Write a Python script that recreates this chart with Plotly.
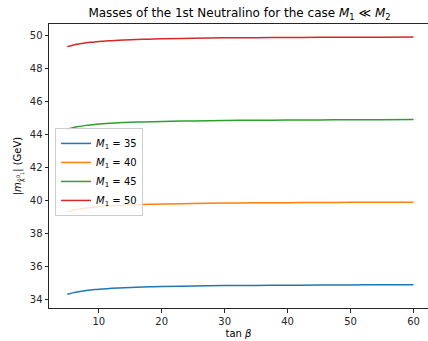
import plotly.graph_objects as go

tan_beta = [5, 6, 7, 8, 9, 10, 12, 14, 16, 18, 20, 25, 30, 35, 40, 45, 50, 55, 60]

m_35 = [34.30, 34.40, 34.47, 34.53, 34.57, 34.61, 34.66, 34.70, 34.73, 34.75, 34.77,
        34.80, 34.83, 34.84, 34.85, 34.86, 34.87, 34.875, 34.88]
m_40 = [39.30, 39.40, 39.47, 39.53, 39.57, 39.61, 39.66, 39.70, 39.73, 39.75, 39.77,
        39.80, 39.83, 39.84, 39.85, 39.86, 39.87, 39.875, 39.88]
m_45 = [44.30, 44.40, 44.47, 44.53, 44.57, 44.61, 44.66, 44.70, 44.73, 44.75, 44.77,
        44.80, 44.83, 44.84, 44.85, 44.86, 44.87, 44.875, 44.88]
m_50 = [49.30, 49.40, 49.47, 49.53, 49.57, 49.61, 49.66, 49.70, 49.73, 49.75, 49.77,
        49.80, 49.83, 49.84, 49.85, 49.86, 49.87, 49.875, 49.88]

series_names = ["<i>M</i><sub>1</sub> = 35", "<i>M</i><sub>1</sub> = 40",
                "<i>M</i><sub>1</sub> = 45", "<i>M</i><sub>1</sub> = 50"]
series_values = [m_35, m_40, m_45, m_50]
colors = ["#1f77b4", "#ff7f0e", "#2ca02c", "#d62728"]

x_ticks = [10, 20, 30, 40, 50, 60]
y_ticks = [34, 36, 38, 40, 42, 44, 46, 48, 50]

fig = go.Figure()
for name, vals, c in zip(series_names, series_values, colors):
    fig.add_trace(go.Scatter(x=tan_beta, y=vals, mode="lines", name=name,
                             line=dict(color=c, width=1.5, shape="spline")))

font_fam = "DejaVu Sans, sans-serif"
fig.update_layout(
    width=428, height=341,
    margin=dict(l=49, r=0, t=24, b=33),
    paper_bgcolor="white", plot_bgcolor="white",
    font=dict(family=font_fam, size=10, color="#262626"),
    title=dict(text="Masses of the 1st Neutralino for the case <i>M</i><sub>1</sub> ≪ <i>M</i><sub>2</sub>",
               x=(49 + 430) / 2 / 428, xanchor="center", y=1 - 13 / 341, yanchor="middle",
               font=dict(size=12, color="black")),
    showlegend=True,
    legend=dict(x=0.016, y=0.634, xanchor="left", yanchor="top",
                bgcolor="rgba(255,255,255,0.8)", bordercolor="#cccccc", borderwidth=1,
                font=dict(size=10, color="black"), tracegroupgap=0,
                itemwidth=30),
    xaxis=dict(range=[2.1, 62.3], tickvals=x_ticks, ticks="outside", ticklen=3.5,
               tickcolor="#262626", showgrid=False, zeroline=False,
               showline=True, linecolor="#262626", linewidth=1, mirror=True,
               title=dict(text="tan <i>β</i>", font=dict(size=10, color="black"), standoff=4)),
    yaxis=dict(range=[33.47, 50.67], tickvals=y_ticks, ticks="outside", ticklen=3.5,
               tickcolor="#262626", showgrid=False, zeroline=False,
               showline=True, linecolor="#262626", linewidth=1, mirror=False,
               title=dict(text="|<i>m</i><sub>χ̃<sup>0</sup><sub>1</sub></sub>| (GeV)",
                          font=dict(size=10, color="black"), standoff=6)),
)

fig.write_html("out.html",
               config={"displayModeBar": False},
               post_script="document.body.style.margin='0';document.body.style.overflow='hidden';")
